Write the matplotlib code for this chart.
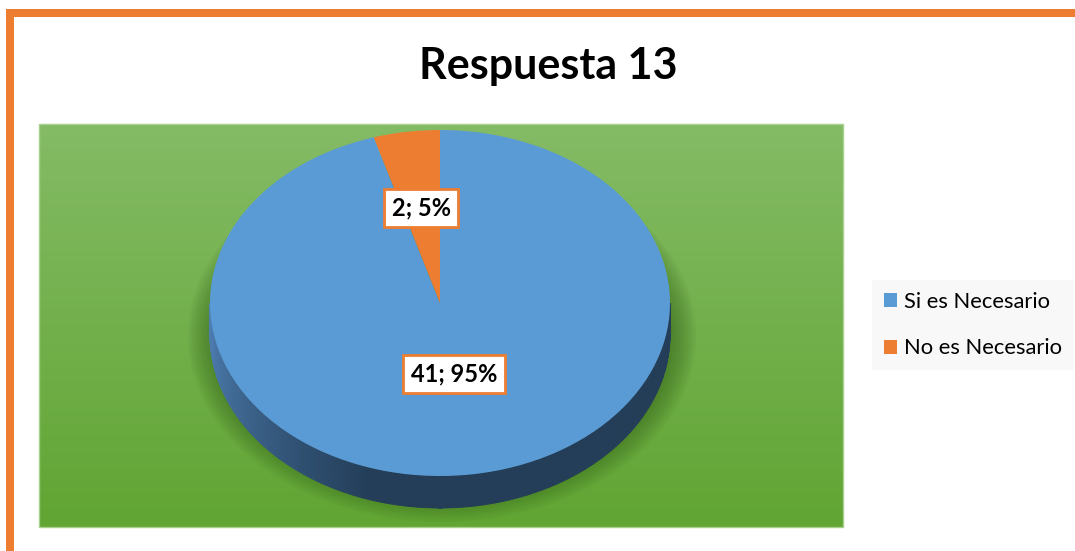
import numpy as np
import matplotlib
matplotlib.use("Agg")
import matplotlib.pyplot as plt
from matplotlib.patches import Rectangle, Ellipse, Polygon
from matplotlib.colors import to_rgb

# data
categories = ["Si es Necesario", "No es Necesario"]
counts = [41, 2]
title = "Respuesta 13"

BLUE = "#5b9bd5"
ORANGE = "#ed7d31"
colors = [BLUE, ORANGE]

plt.rcParams["font.family"] = ["Lato", "DejaVu Sans"]

W, H = 1075, 551
fig = plt.figure(figsize=(W / 100, H / 100), dpi=100)
fig.patch.set_facecolor("white")

# background layer in pixel coordinates
bg = fig.add_axes([0, 0, 1, 1])
bg.set_xlim(0, W)
bg.set_ylim(H, 0)
bg.axis("off")

# orange frame (top + left)
bg.add_patch(Rectangle((6, 9), W - 6, 8, color=ORANGE, lw=0))
bg.add_patch(Rectangle((6, 9), 8, H - 9, color=ORANGE, lw=0))

# green gradient plot area
px0, px1, py0, py1 = 39, 843, 124, 527
top_c, bot_c = np.array(to_rgb("#84bb65")), np.array(to_rgb("#61a533"))
grad = np.linspace(0, 1, 200)[:, None, None] * (bot_c - top_c) + top_c
grad = np.repeat(grad, 2, axis=1)
bg.imshow(grad, extent=(px0, px1, py1, py0), aspect="auto", interpolation="bilinear", zorder=1)
area = Rectangle((px0, py0), px1 - px0, py1 - py0, fill=False, ec="#a9d18e", lw=1, zorder=3)
bg.add_patch(area)
bg.set_xlim(0, W)
bg.set_ylim(H, 0)

# soft shadow under the pie
clip = Rectangle((px0, py0), px1 - px0, py1 - py0, transform=bg.transData)
for k in range(14):
    e = Ellipse((442, 336), 2 * (254 - 2.2 * k), 2 * (186 - 2.2 * k),
                color="#2f5a15", alpha=0.05, lw=0, zorder=2)
    bg.add_patch(e)
    e.set_clip_path(clip)

fig.text(0.51, 1 - 79 / H, title, ha="center", va="baseline",
         fontsize=31, fontweight="bold", color="black")

# pie axes: unit circle squashed into ellipse
cx, cy, rx, ry = 440, 303, 230, 173
xl, yl = (-1.3, 1.3), (-1.4, 1.2)
left = cx + xl[0] * rx
ax = fig.add_axes([left / W, 1 - (cy - yl[0] * ry) / H,
                   (xl[1] - xl[0]) * rx / W, (yl[1] - yl[0]) * ry / H])
ax.patch.set_alpha(0)

wedges, _ = ax.pie(counts, colors=colors, startangle=90, counterclock=False,
                   wedgeprops=dict(linewidth=0, zorder=3))
ax.set_aspect("auto")
ax.set_xlim(*xl)
ax.set_ylim(*yl)
ax.axis("off")

# side wall (front half), shaded
depth = 32 / ry
fr = np.array(counts) / sum(counts)
bounds = 90 - 360 * np.concatenate([[0], np.cumsum(fr)])
light, dark = np.array(to_rgb("#5082b8")), np.array(to_rgb("#243e59"))
ts = np.linspace(np.pi, 2 * np.pi, 240)
for t0, t1 in zip(ts[:-1], ts[1:]):
    ang = np.degrees((t0 + t1) / 2) - 360
    idx = 0
    for i in range(len(counts)):
        lo, hi = bounds[i + 1], bounds[i]
        if lo <= ang <= hi or lo <= ang - 360 <= hi or lo <= ang + 360 <= hi:
            idx = i
    s = min(1.0, (t0 - np.pi) / (0.4 * np.pi))
    base = np.array(to_rgb(colors[idx]))
    col = (light + (dark - light) * s) * (base / np.array(to_rgb(BLUE))).clip(0, 2)
    col = col.clip(0, 1)
    poly = Polygon([(np.cos(t0), np.sin(t0)), (np.cos(t1), np.sin(t1)),
                    (np.cos(t1), np.sin(t1) - depth), (np.cos(t0), np.sin(t0) - depth)],
                   closed=True, fc=col, ec=col, lw=0.6, zorder=1)
    ax.add_patch(poly)

# data labels
label_r = [0.415, 0.556]
for i, w in enumerate(wedges):
    mid = np.radians((w.theta1 + w.theta2) / 2)
    pct = 100 * counts[i] / sum(counts)
    ax.text(label_r[i] * np.cos(mid), label_r[i] * np.sin(mid), f"{counts[i]}; {pct:.0f}%",
            ha="center", va="center", fontsize=17, fontweight="bold", zorder=5,
            bbox=dict(boxstyle="square,pad=0.32", fc="white", ec=ORANGE, lw=2))

leg = fig.legend(wedges, categories, loc="upper left", bbox_to_anchor=(872 / W, 1 - 280 / H),
                 frameon=True, fancybox=False, facecolor="#f7f7f7", edgecolor="none",
                 fontsize=15.8, handlelength=0.6, handleheight=0.6, handletextpad=0.3,
                 labelspacing=1.2, borderpad=0.55, borderaxespad=0)
leg.get_frame().set_linewidth(0)

fig.savefig("out.png", dpi=100)
